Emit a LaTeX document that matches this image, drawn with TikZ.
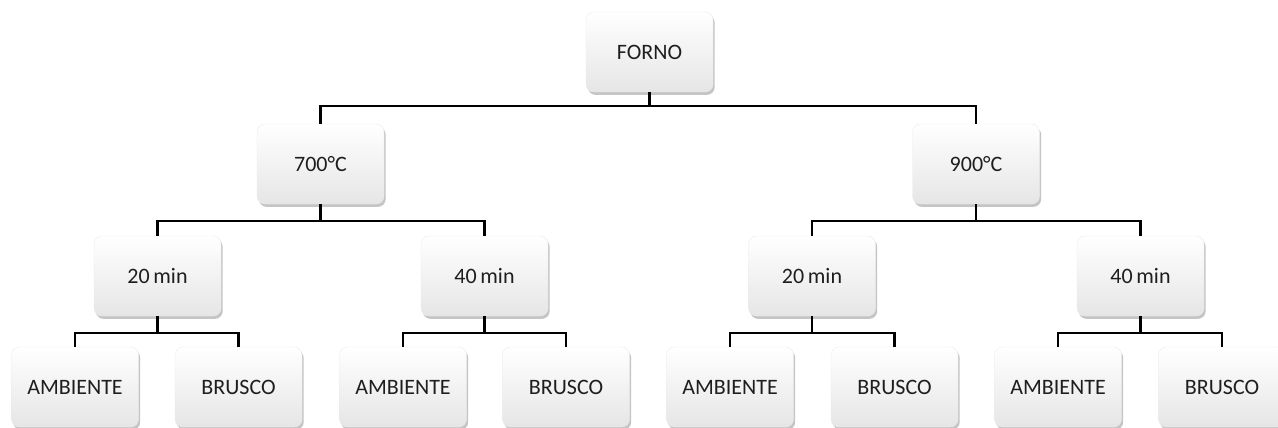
\documentclass[tikz,border=0pt]{standalone}
\usepackage{fontspec}
\setmainfont{Carlito}
\usetikzlibrary{shadows}
\definecolor{txt}{HTML}{1E1E1E}
\tikzset{
  box/.style={rounded corners=6pt, minimum width=95.25pt, minimum height=60pt,
    top color=white, bottom color=gray!20, draw=gray!15, line width=0.3pt,
    drop shadow={opacity=0.45, shadow xshift=1.3pt, shadow yshift=-2.2pt},
    font=\fontsize{16.5pt}{19pt}\selectfont, text=txt, inner sep=0pt},
  conn/.style={line width=1.6pt, black}
}
\begin{document}
\begin{tikzpicture}[x=0.75pt, y=-0.75pt]
\useasboundingbox (0,0) rectangle (1278,428);
\fill[white] (0,0) rectangle (1278,428);
% nodes
\node[box] (forno) at (649.5,52) {FORNO};
\node[box] (t700) at (320.5,164) {700°C};
\node[box] (t900) at (976,164) {900°C};
\node[box] (a20) at (157.5,276) {20\,min};
\node[box] (a40) at (484.5,276) {40\,min};
\node[box] (b20) at (812,276) {20\,min};
\node[box] (b40) at (1140.5,276) {40\,min};
\node[box] (l1) at (75,387) {AMBIENTE};
\node[box] (l2) at (238.5,387) {BRUSCO};
\node[box] (l3) at (403,387) {AMBIENTE};
\node[box] (l4) at (566,387) {BRUSCO};
\node[box] (l5) at (730,387) {AMBIENTE};
\node[box] (l6) at (894.5,387) {BRUSCO};
\node[box] (l7) at (1058,387) {AMBIENTE};
\node[box] (l8) at (1222,387) {BRUSCO};
% junctions
\coordinate (j0) at (649.5,106);
\coordinate (j1) at (320.5,221);
\coordinate (j2) at (976,221);
\coordinate (k1) at (157.5,333);
\coordinate (k2) at (484.5,333);
\coordinate (k3) at (812,333);
\coordinate (k4) at (1140.5,333);
% connectors
\draw[conn] (forno.south) -- (j0);
\draw[conn] (t700.north) |- (j0) -| (t900.north);
\draw[conn] (t700.south) -- (j1);
\draw[conn] (a20.north) |- (j1) -| (a40.north);
\draw[conn] (t900.south) -- (j2);
\draw[conn] (b20.north) |- (j2) -| (b40.north);
\draw[conn] (a20.south) -- (k1);
\draw[conn] (l1.north) |- (k1) -| (l2.north);
\draw[conn] (a40.south) -- (k2);
\draw[conn] (l3.north) |- (k2) -| (l4.north);
\draw[conn] (b20.south) -- (k3);
\draw[conn] (l5.north) |- (k3) -| (l6.north);
\draw[conn] (b40.south) -- (k4);
\draw[conn] (l7.north) |- (k4) -| (l8.north);
\end{tikzpicture}
\end{document}
